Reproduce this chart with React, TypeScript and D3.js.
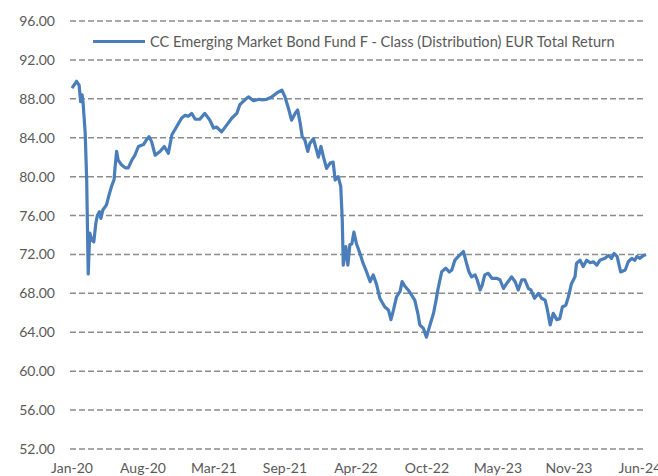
import React from "react";
import * as d3 from "d3";

const seriesName = "CC Emerging Market Bond Fund F - Class (Distribution) EUR Total Return";

// trading-day index since start of series
const dayIndex = [
  0, 9, 14, 17, 20, 22, 26, 29, 32, 35, 39, 43, 47, 50, 54, 57, 61, 64, 68, 74, 78, 83, 85, 88, 91, 98,
  105, 111, 118, 124, 131, 141, 147, 152, 157, 164, 174, 182, 190, 197, 206, 216, 223, 229, 236, 243,
  252, 262, 272, 279, 285, 295, 305, 315, 325, 331, 341, 348, 358, 369, 374, 384, 394, 404, 414, 420,
  427, 433, 440, 445, 450, 454, 459, 465, 469, 476, 486, 491, 496, 502, 509, 515, 519, 525, 530, 533,
  535, 540, 544, 548, 552, 556, 561, 568, 574, 581, 588, 594, 601, 607, 617, 624, 629, 634, 640, 647,
  651, 657, 663, 670, 676, 682, 686, 693, 699, 706, 713, 718, 722, 729, 737, 744, 749, 755, 762, 772,
  778, 783, 788, 795, 799, 805, 809, 814, 821, 828, 837, 844, 851, 857, 867, 874, 880, 887, 893, 900,
  905, 912, 920, 926, 933, 937, 943, 949, 956, 962, 967, 974, 979, 985, 992, 995, 1002, 1008, 1015,
  1022, 1028, 1035, 1041, 1051, 1058, 1064, 1069, 1075, 1082, 1091, 1097, 1104, 1110, 1114, 1120, 1127, 1132,
];

const totalReturn = [
  89.1, 89.8, 89.4, 87.7, 88.4, 87.5, 84.5, 79.6, 70.0, 74.2, 73.5, 73.3, 75.2, 76.0, 76.4, 75.7, 76.6, 76.8,
  77.1, 78.3, 79.0, 79.7, 81.0, 82.6, 81.7, 81.2, 80.9, 80.9, 81.7, 82.2, 83.1, 83.3, 83.8, 84.1, 83.6, 82.2,
  82.6, 83.1, 82.4, 84.3, 85.1, 86.0, 86.3, 86.2, 86.5, 85.9, 85.9, 86.5, 85.8, 85.0, 85.1, 84.6, 85.3, 86.0,
  86.5, 87.4, 87.9, 88.2, 87.8, 87.95, 87.9, 87.95, 88.2, 88.6, 88.9, 88.2, 87.0, 85.8, 86.5, 86.85, 85.5,
  84.1, 83.8, 82.6, 83.4, 83.9, 82.0, 83.1, 82.0, 80.85, 81.4, 81.5, 79.65, 80.0, 79.0, 75.5, 70.9, 72.8,
  70.9, 73.0, 73.1, 74.3, 73.1, 72.1, 71.1, 70.2, 69.2, 69.9, 68.85, 67.5, 66.6, 66.3, 65.3, 66.3, 67.65,
  68.2, 69.2, 68.7, 68.35, 67.8, 67.3, 65.95, 64.75, 64.4, 63.5, 64.75, 65.95, 67.3, 68.5, 70.2, 70.6, 70.2,
  70.4, 71.4, 71.8, 72.3, 71.1, 70.2, 69.7, 69.9, 69.4, 68.35, 68.85, 69.9, 70.06, 69.55, 69.55, 69.4, 68.5,
  69.0, 69.7, 69.2, 68.35, 69.4, 69.4, 68.5, 68.35, 67.5, 68.0, 67.5, 67.3, 66.45, 64.75, 65.95, 65.3, 65.4,
  66.6, 66.8, 67.65, 69.0, 69.7, 71.1, 71.4, 70.75, 71.4, 71.15, 71.25, 70.9, 71.4, 71.6, 71.9, 71.6, 72.1,
  71.8, 70.2, 70.4, 71.25, 71.6, 71.4, 71.8, 71.6, 71.9, 72.0,
];

const xTickLabels = ["Jan-20", "Aug-20", "Mar-21", "Sep-21", "Apr-22", "Oct-22", "May-23", "Nov-23", "Jun-24"];
const xTickStep = 140; // trading days between labels
const yTicks = [52, 56, 60, 64, 68, 72, 76, 80, 84, 88, 92, 96];

const W = 658;
const H = 476;
const FONT = "Lato, 'Open Sans', sans-serif";

export default function App() {
  const x = d3.scaleLinear().domain([0, 1132]).range([72, 646]);
  const y = d3.scaleLinear().domain([52, 96]).range([449, 21]);
  const gridX0 = 70;
  const gridX1 = 646;

  const pts: [number, number][] = dayIndex.map((d, i) => [d, totalReturn[i]]);
  const line = d3
    .line<[number, number]>()
    .x((d) => x(d[0]))
    .y((d) => y(d[1]))
    .curve(d3.curveLinear);

  return (
    <svg
      width={W}
      height={H}
      style={{ position: "absolute", left: 0, top: 0, background: "#fff" }}
      fontFamily={FONT}
    >
      <rect x={0} y={0} width={W} height={H} fill="#fff" />
      {yTicks.map((t) => (
        <g key={t}>
          <line
            x1={gridX0}
            x2={gridX1}
            y1={y(t)}
            y2={y(t)}
            stroke="#8c8c8c"
            strokeWidth={1.5}
            strokeDasharray="6,3"
          />
          <text x={55} y={y(t)} dy="0.36em" textAnchor="end" fontSize={14} fill="#595959">
            {t.toFixed(2)}
          </text>
        </g>
      ))}
      {xTickLabels.map((lab, i) => (
        <text key={lab} x={x(i * xTickStep)} y={473} textAnchor="middle" fontSize={14} fill="#595959">
          {lab}
        </text>
      ))}
      <path d={line(pts) || ""} fill="none" stroke="#4a7ebb" strokeWidth={3.2} strokeLinejoin="round" />
      <line x1={93} x2={145} y1={41.5} y2={41.5} stroke="#4a7ebb" strokeWidth={3.2} />
      <text x={150} y={41.5} dy="0.36em" fontSize={14.6} fill="#595959">
        {seriesName}
      </text>
    </svg>
  );
}
